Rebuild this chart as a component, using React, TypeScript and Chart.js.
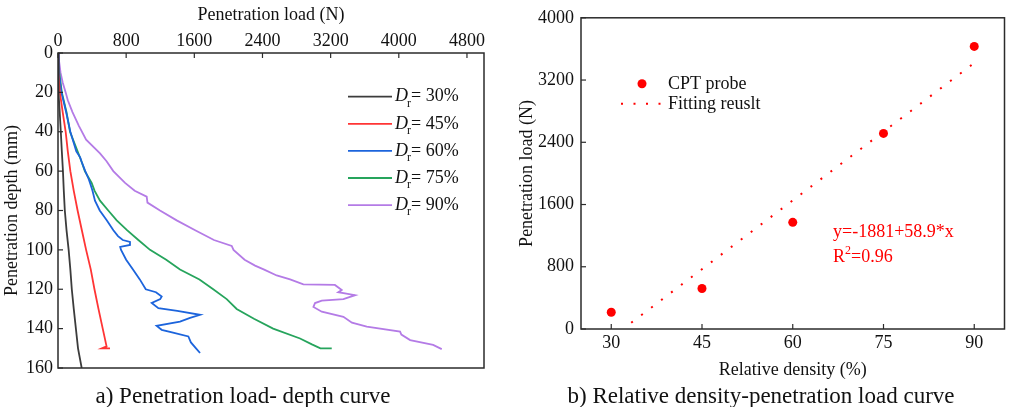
import React, { useEffect, useRef } from "react";
import { Chart, registerables } from "chart.js";
Chart.register(...registerables);

const FONT = "'Liberation Serif', 'Times New Roman', serif";
const AXIS = "#2b2b2b";

// ---------- Left chart: penetration load vs depth ----------
const loadTicks = [0, 800, 1600, 2400, 3200, 4000, 4800];
const depthTicks = [0, 20, 40, 60, 80, 100, 120, 140, 160];
const drLabels = ["30%", "45%", "60%", "75%", "90%"];
const drColors = ["#3c3c3c", "#ff3535", "#1c64dc", "#26a45c", "#b47be6"];

const depth30 = [0, 10, 20, 30, 40, 50, 60, 70, 80, 90, 100, 110, 120, 130, 140, 150, 160];
const load30 = [0, 3, 9, 20, 33, 45, 58, 68, 80, 100, 125, 145, 162, 185, 210, 235, 278];

const depth45 = [0, 10, 20, 30, 40, 50, 60, 70, 80, 90, 100, 110, 120, 130, 140, 149, 150, 150];
const load45 = [0, 4, 22, 55, 90, 115, 145, 185, 230, 280, 330, 385, 428, 475, 525, 570, 515, 610];

const depth60 = [0, 10, 20, 30, 40, 50, 53, 55, 60, 64, 66, 70, 75, 80, 85, 90, 93, 95, 96, 97.5, 98.5, 100, 105, 110, 115, 120, 121.5, 123.7, 125, 127, 129.6, 131, 133, 134.5, 136.4, 138.6, 140.6, 142, 144, 147, 150, 152.4];
const load60 = [0, 10, 40, 95, 145, 215, 260, 275, 320, 360, 376, 405, 434, 490, 572, 650, 704, 760, 845, 845, 730, 740, 800, 880, 960, 1030, 1150, 1217, 1200, 1100, 1178, 1400, 1667, 1550, 1432, 1158, 1217, 1350, 1530, 1560, 1620, 1667];

const depth75 = [0, 10, 20, 30, 40, 50, 55, 60, 66, 70, 75, 80, 85, 90, 95, 100, 105, 110, 115, 120, 125, 130, 135, 140, 145, 148, 150, 150];
const load75 = [0, 15, 45, 100, 141, 230, 275, 315, 395, 430, 493, 590, 689, 810, 943, 1080, 1270, 1432, 1660, 1822, 1980, 2097, 2300, 2525, 2841, 2980, 3080, 3213];

const depth90 = [0, 10, 15, 20, 24, 30, 37, 44, 51, 55, 60, 66, 70, 73, 76, 80, 85, 90, 95, 98, 100, 105, 108, 110, 113, 115, 117.5, 117.8, 120.4, 121.5, 123, 125, 125.8, 127, 129, 131.4, 134, 137, 139, 141.5, 143, 145.8, 148.3, 150.4];
const load90 = [0, 30, 55, 90, 115, 170, 245, 330, 493, 570, 649, 787, 900, 1041, 1050, 1197, 1393, 1610, 1830, 2039, 2060, 2190, 2313, 2420, 2567, 2724, 2880, 3250, 3330, 3290, 3487, 3350, 3096, 3017, 2998, 3096, 3350, 3450, 3624, 4015, 4030, 4133, 4403, 4504];

const leftDepths = [depth30, depth45, depth60, depth75, depth90];
const leftLoads = [load30, load45, load60, load75, load90];

// ---------- Right chart: relative density vs load ----------
const densityTicks = [30, 45, 60, 75, 90];
const penLoadTicks = [0, 800, 1600, 2400, 3200, 4000];
const densityValues = [30, 45, 60, 75, 90];
const cptLoads = [216, 520, 1371, 2514, 3632];
const fitDensity = [33.3, 90];
const fitLoad = [80, 3420];

const RED = "#ff0000";

const tickFont = { family: FONT, size: 18 };
const titleFont = { family: FONT, size: 18 };
const plain = (v: any) => String(v);

function setTicks(values: number[]) {
  return (s: any) => {
    s.ticks = values.map((v) => ({ value: v }));
  };
}

const frameTicksPlugin = {
  id: "frameTicks",
  afterDatasetsDraw(chart: any) {
    const { ctx, chartArea: a } = chart;
    ctx.save();
    ctx.strokeStyle = AXIS;
    ctx.lineWidth = 1.2;
    Object.keys(chart.scales).forEach((id) => {
      const s = chart.scales[id];
      s.ticks.forEach((t: any) => {
        const p = s.getPixelForValue(t.value);
        ctx.beginPath();
        if (s.isHorizontal()) {
          const top = s.position === "top";
          const y0 = top ? a.top : a.bottom;
          ctx.moveTo(p, y0);
          ctx.lineTo(p, y0 + (top ? 5 : -5));
        } else {
          ctx.moveTo(a.left, p);
          ctx.lineTo(a.left + 5, p);
        }
        ctx.stroke();
      });
    });
    ctx.lineWidth = 1.5;
    ctx.strokeRect(a.left, a.top, a.right - a.left, a.bottom - a.top);
    ctx.restore();
  },
};

function captionPlugin(text: string, cx: number) {
  return {
    id: "caption",
    afterDraw(chart: any) {
      const { ctx } = chart;
      ctx.save();
      ctx.font = `23px ${FONT}`;
      ctx.fillStyle = "#111";
      ctx.textAlign = "center";
      ctx.textBaseline = "alphabetic";
      ctx.fillText(text, cx, 403);
      ctx.restore();
    },
  };
}

const leftLegendPlugin = {
  id: "leftLegend",
  afterDraw(chart: any) {
    const { ctx, chartArea: a } = chart;
    ctx.save();
    chart.data.datasets.forEach((ds: any, i: number) => {
      const y = a.top + 43.7 + i * 27.1;
      const x0 = a.right - 136;
      ctx.strokeStyle = ds.borderColor;
      ctx.lineWidth = 1.8;
      ctx.beginPath();
      ctx.moveTo(x0, y);
      ctx.lineTo(x0 + 44, y);
      ctx.stroke();
      ctx.fillStyle = "#111";
      ctx.textAlign = "left";
      ctx.textBaseline = "middle";
      let x = x0 + 47;
      ctx.font = `italic 18px ${FONT}`;
      ctx.fillText("D", x, y);
      x += ctx.measureText("D").width;
      ctx.font = `12px ${FONT}`;
      ctx.fillText("r", x - 1, y + 7);
      x += ctx.measureText("r").width - 1;
      ctx.font = `18px ${FONT}`;
      ctx.fillText("= " + drLabels[i], x, y);
    });
    ctx.restore();
  },
};

const rightDecorPlugin = {
  id: "rightDecor",
  afterDraw(chart: any) {
    const { ctx, chartArea: a } = chart;
    ctx.save();
    // legend
    ctx.fillStyle = RED;
    ctx.beginPath();
    ctx.arc(a.left + 61, a.top + 66, 4.5, 0, Math.PI * 2);
    ctx.fill();
    ctx.strokeStyle = RED;
    ctx.lineWidth = 2;
    ctx.setLineDash([2, 10.5]);
    ctx.beginPath();
    ctx.moveTo(a.left + 40, a.top + 86);
    ctx.lineTo(a.left + 82, a.top + 86);
    ctx.stroke();
    ctx.setLineDash([]);
    ctx.fillStyle = "#111";
    ctx.font = `18px ${FONT}`;
    ctx.textAlign = "left";
    ctx.textBaseline = "middle";
    ctx.fillText(chart.data.datasets[0].label, a.left + 87, a.top + 66);
    ctx.fillText(chart.data.datasets[1].label, a.left + 87, a.top + 86);
    // equation
    ctx.fillStyle = RED;
    ctx.fillText("y=-1881+58.9*x", a.left + 252, a.top + 214);
    let x = a.left + 252;
    const y2 = a.top + 239;
    ctx.fillText("R", x, y2);
    x += ctx.measureText("R").width;
    ctx.font = `12px ${FONT}`;
    ctx.fillText("2", x, y2 - 6);
    x += ctx.measureText("2").width;
    ctx.font = `18px ${FONT}`;
    ctx.fillText("=0.96", x, y2);
    ctx.restore();
  },
};

function LeftChart() {
  const ref = useRef<HTMLCanvasElement>(null);
  useEffect(() => {
    const chart = new Chart(ref.current as HTMLCanvasElement, {
      type: "line",
      data: {
        datasets: leftDepths.map((dep, i) => ({
          label: "Dr= " + drLabels[i],
          data: dep.map((d, j) => ({ x: leftLoads[i][j], y: d })),
          borderColor: drColors[i],
          backgroundColor: drColors[i],
          borderWidth: 1.8,
          pointRadius: 0,
          tension: 0,
          fill: false,
        })),
      },
      options: {
        animation: false,
        responsive: false,
        layout: { padding: { left: 0, top: 0, right: 16, bottom: 39 } },
        plugins: { legend: { display: false }, tooltip: { enabled: false } },
        scales: {
          x: {
            type: "linear",
            position: "top",
            min: 0,
            max: 5000,
            afterBuildTicks: setTicks(loadTicks),
            afterFit: (s: any) => {
              s.height = 53;
            },
            grid: { display: false, drawTicks: false },
            border: { display: false },
            ticks: { font: tickFont, color: "#111", padding: 1, maxRotation: 0, autoSkip: false, callback: plain },
            title: { display: true, text: "Penetration load (N)", font: titleFont, color: "#111", padding: { top: 4, bottom: 0 } },
          },
          y: {
            type: "linear",
            reverse: true,
            min: 0,
            max: 160,
            afterBuildTicks: setTicks(depthTicks),
            afterFit: (s: any) => {
              s.width = 58;
            },
            grid: { display: false, drawTicks: false },
            border: { display: false },
            ticks: { font: tickFont, color: "#111", padding: 5, autoSkip: false, callback: plain },
            title: { display: true, text: "Penetration depth (mm)", font: titleFont, color: "#111", padding: { top: 1, bottom: 0 } },
          },
        },
      } as any,
      plugins: [frameTicksPlugin, leftLegendPlugin, captionPlugin("a) Penetration load- depth curve", 243)],
    });
    return () => chart.destroy();
  }, []);
  return <canvas ref={ref} width={500} height={407} style={{ position: "absolute", left: 0, top: 0, display: "block" }} />;
}

function RightChart() {
  const ref = useRef<HTMLCanvasElement>(null);
  useEffect(() => {
    const chart = new Chart(ref.current as HTMLCanvasElement, {
      type: "scatter",
      data: {
        datasets: [
          {
            label: "CPT probe",
            data: densityValues.map((d, i) => ({ x: d, y: cptLoads[i] })),
            backgroundColor: RED,
            borderColor: RED,
            pointRadius: 4.5,
            pointBorderWidth: 0,
            showLine: false,
          },
          {
            label: "Fitting reuslt",
            data: fitDensity.map((d, i) => ({ x: d, y: fitLoad[i] })),
            borderColor: RED,
            backgroundColor: RED,
            borderWidth: 2,
            borderDash: [2, 10.5],
            pointRadius: 0,
            showLine: true,
          },
        ],
      },
      options: {
        animation: false,
        responsive: false,
        layout: { padding: { left: 0, top: 14, right: 2, bottom: 26 } },
        plugins: { legend: { display: false }, tooltip: { enabled: false } },
        scales: {
          x: {
            type: "linear",
            position: "bottom",
            min: 25,
            max: 95,
            afterBuildTicks: setTicks(densityTicks),
            afterFit: (s: any) => {
              s.height = 52;
            },
            grid: { display: false, drawTicks: false },
            border: { display: false },
            ticks: { font: tickFont, color: "#111", padding: 3, maxRotation: 0, autoSkip: false, callback: plain },
            title: { display: true, text: "Relative density (%)", font: titleFont, color: "#111", padding: { top: 0, bottom: 0 } },
          },
          y: {
            type: "linear",
            min: 0,
            max: 4000,
            afterBuildTicks: setTicks(penLoadTicks),
            afterFit: (s: any) => {
              s.width = 81;
            },
            grid: { display: false, drawTicks: false },
            border: { display: false },
            ticks: { font: tickFont, color: "#111", padding: 7, autoSkip: false, callback: plain },
            title: { display: true, text: "Penetration load (N)", font: titleFont, color: "#111", padding: { top: 16, bottom: 0 } },
          },
        },
      } as any,
      plugins: [frameTicksPlugin, rightDecorPlugin, captionPlugin("b) Relative density-penetration load curve", 261)],
    });
    return () => chart.destroy();
  }, []);
  return <canvas ref={ref} width={509} height={407} style={{ position: "absolute", left: 500, top: 0, display: "block" }} />;
}

export default function App() {
  return (
    <div style={{ position: "absolute", left: 0, top: 0, width: 1009, height: 407, background: "#fff", overflow: "hidden" }}>
      <LeftChart />
      <RightChart />
    </div>
  );
}
